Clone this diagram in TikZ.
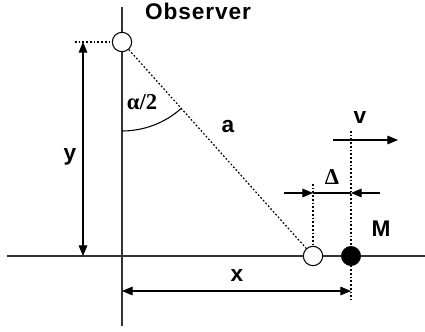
\documentclass[tikz,border=0pt]{standalone}
\usepackage{fontspec}
\setmainfont{Liberation Sans}
\newfontfamily\symfont{Liberation Serif}
\usepackage{tikz}
\usetikzlibrary{arrows.meta,calc}
\definecolor{axisgray}{HTML}{333333}

\begin{document}
\begin{tikzpicture}[
        x=0.75pt, y=-0.75pt,
        every node/.style={font=\fontsize{17}{19}\selectfont\bfseries, inner sep=0pt},
        axis/.style={draw=axisgray, line width=1.1pt},
        guide/.style={draw=black, line width=0.9pt, dash pattern=on 1.3pt off 1.5pt},
        dimline/.style={draw=black, line width=0.8pt},
        tip/.style={-{Triangle[length=8pt,width=6.5pt]}},
        tips/.style={{Triangle[length=8pt,width=6.5pt]}-{Triangle[length=8pt,width=6.5pt]}},
        ring/.style={circle, draw=black, line width=0.8pt, fill=white, minimum size=14.5pt},
        blob/.style={circle, draw=black, fill=black, minimum size=14.5pt}
      ]
        \useasboundingbox (0,0) rectangle (425,332);
        % axes
        \coordinate (ytop) at (122,7);
        \coordinate (ybot) at (122,326);
        \coordinate (xleft) at (7,256);
        \coordinate (xright) at (425,256);
        \draw[axis] (ytop) -- (ybot);
        \draw[axis] (xleft) -- (xright);
        % helper points
        \coordinate (hy) at (75,42);
        \coordinate (ya) at (83,42);
        \coordinate (yb) at (83,256);
        \coordinate (xa) at (122,291);
        \coordinate (xb) at (351,291);
        \coordinate (mtop) at (351,131);
        \coordinate (mbot) at (351,300);
        \coordinate (itop) at (313,184);
        \coordinate (vs) at (333,140);
        \coordinate (ve) at (398,140);
        \coordinate (dl) at (284,193);
        \coordinate (di) at (313,193);
        \coordinate (dm) at (351,193);
        \coordinate (dr) at (380,193);
        % dotted guides
        \draw[guide] (hy) -- (ya) -- (122,42);
        \draw[guide] (mtop) -- (mbot);
        \draw[guide] (itop) -- (313,256);
        \node[ring] (obs) at (122,42) {};
        \node[ring] (img) at (313,256) {};
        \node[blob] (tgt) at (351,256) {};
        \draw[guide] (obs) -- (img);
        % angle
        \draw[dimline] (122,131) arc[start angle=90, end angle=48.25, radius=89];
        % dimensions
        \draw[dimline, tips] (ya) -- (yb);
        \draw[dimline, tips] (xa) -- (xb);
        \draw[dimline, tip] (vs) -- (ve);
        \draw[dimline, tip] (dl) -- (di);
        \draw[dimline] (di) -- (dm);
        \draw[dimline, tip] (dr) -- (dm);
        % labels
        \node[anchor=base] (lobs) at (198,20) {\addfontfeature{LetterSpace=4}Observer};
        \node[anchor=base] (lalpha) at (142,109) {\symfont α/2};
        \node[anchor=base] (la) at (228,132) {a};
        \node[anchor=base] (ly) at (70,160) {y};
        \node[anchor=base] (lx) at (237,281) {x};
        \node[anchor=base] (lv) at (360,123) {v};
        \node[anchor=base] (ldelta) at (332,184) {\symfont Δ};
        \node[anchor=base] (lm) at (381,236) {M};
      \end{tikzpicture}
\end{document}
